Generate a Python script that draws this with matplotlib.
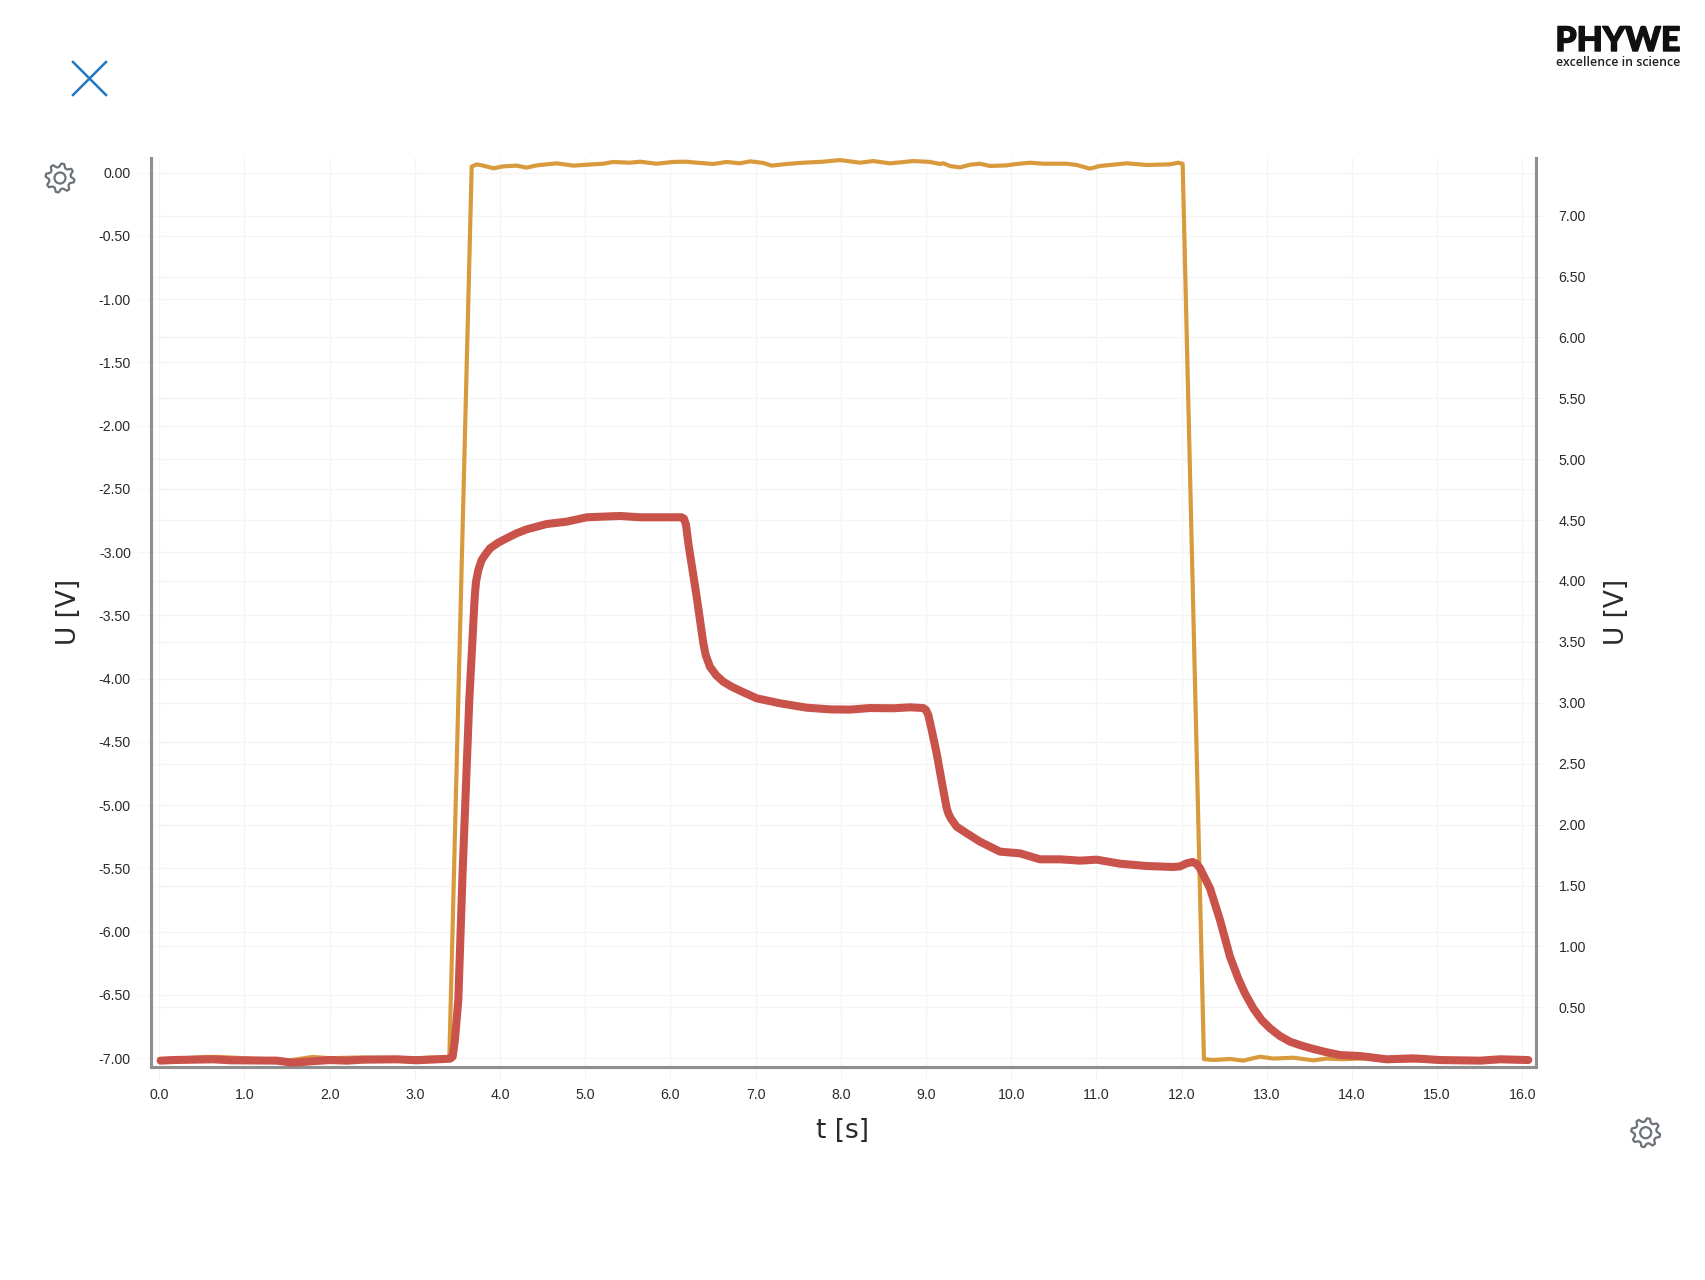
import numpy as np
import matplotlib
matplotlib.use("Agg")
import matplotlib.pyplot as plt
import matplotlib.patheffects as pe
from matplotlib.path import Path
from matplotlib.patches import PathPatch, Circle
from matplotlib.lines import Line2D

W, H = 1706, 1280

# Orange series, left axis [V]
orange_t = [0.0, 0.3, 0.55, 0.7, 1.0, 1.5, 1.8, 2.0, 2.3, 3.0, 3.405, 3.667, 3.726, 3.803, 3.921, 4.038, 4.195, 4.313,
            4.430, 4.665, 4.860, 5.017, 5.212, 5.329, 5.525, 5.643, 5.838, 6.034, 6.191, 6.308, 6.504, 6.660,
            6.817, 6.934, 7.090, 7.189, 7.365, 7.560, 7.794, 7.990, 8.225, 8.381, 8.577, 8.851, 9.047, 9.164,
            9.203, 9.282, 9.399, 9.516, 9.634, 9.751, 9.947, 10.064, 10.221, 10.377, 10.651, 10.769, 10.925,
            11.042, 11.356, 11.591, 11.864, 11.962, 12.013, 12.263, 12.373, 12.569, 12.725, 12.921, 13.077,
            13.312, 13.547, 13.703, 13.899, 14.2, 14.6, 15.0, 15.5, 16.07]
orange_u = [-7.01, -7.0, -6.99, -6.99, -7.0, -7.02, -6.99, -7.0, -6.995, -7.0, -6.99, 0.048, 0.066, 0.056, 0.035, 0.050, 0.056, 0.040,
            0.058, 0.074, 0.056, 0.063, 0.071, 0.085, 0.079, 0.087, 0.071, 0.085, 0.087, 0.079, 0.069, 0.085,
            0.074, 0.090, 0.077, 0.056, 0.069, 0.079, 0.087, 0.100, 0.079, 0.092, 0.074, 0.092, 0.085, 0.069,
            0.074, 0.053, 0.042, 0.063, 0.071, 0.053, 0.058, 0.069, 0.079, 0.071, 0.071, 0.061, 0.032,
            0.053, 0.074, 0.061, 0.066, 0.079, 0.069, -7.008, -7.014, -7.006, -7.019, -6.988, -7.003,
            -6.996, -7.017, -7.003, -7.008, -7.0, -7.02, -7.015, -7.02, -7.01]

# Red series, right axis [V]
red_t = [0.016, 0.164, 0.634, 0.830, 1.378, 1.573, 1.769, 2.004, 2.199, 2.395, 2.786, 3.021, 3.412, 3.444, 3.47, 3.51, 3.56,
         3.639, 3.674, 3.697, 3.706, 3.718, 3.745, 3.784, 3.823, 3.882, 3.979, 4.078, 4.195, 4.313, 4.548, 4.782, 5.017,
         5.408, 5.643, 6.132, 6.159, 6.183,
         6.210, 6.308, 6.347, 6.386, 6.414, 6.464, 6.535, 6.621, 6.719, 6.817, 7.012, 7.286, 7.599, 7.873, 8.108, 8.342,
         8.616, 8.812, 8.968, 9.0, 9.027, 9.067, 9.125, 9.203, 9.243, 9.262, 9.290, 9.360, 9.477, 9.634, 9.869, 10.103,
         10.338, 10.573, 10.808, 11.004,
         11.277, 11.591, 11.904, 11.982, 12.060, 12.131, 12.177, 12.217, 12.236, 12.295, 12.334, 12.451, 12.569, 12.666,
         12.744, 12.842, 12.940, 13.038, 13.155,
         13.273, 13.410, 13.547, 13.703, 13.86, 14.095, 14.408, 14.721, 15.034, 15.504, 15.739, 16.07]
red_u = [0.062, 0.067, 0.073, 0.065, 0.062, 0.045, 0.056, 0.067, 0.062, 0.070, 0.073, 0.065, 0.078, 0.095, 0.23, 0.56, 1.6,
         3.023, 3.488, 3.800, 3.899, 3.994, 4.090, 4.172, 4.213, 4.268, 4.315, 4.351, 4.392, 4.424, 4.468, 4.487, 4.523,
         4.534, 4.523, 4.523, 4.512, 4.460,
         4.310, 3.871, 3.680, 3.490, 3.392, 3.296, 3.228, 3.173, 3.132, 3.099, 3.037, 2.996, 2.960, 2.946, 2.944, 2.957,
         2.955, 2.963, 2.957, 2.941, 2.900, 2.777, 2.585, 2.284, 2.134, 2.093, 2.052, 1.983, 1.929, 1.860, 1.778, 1.764,
         1.715, 1.715, 1.704, 1.712,
         1.679, 1.660, 1.652, 1.657, 1.682, 1.693, 1.677, 1.641, 1.613, 1.531, 1.477, 1.217, 0.915, 0.735,
         0.615, 0.492, 0.396, 0.328, 0.264,
         0.218, 0.185, 0.158, 0.131, 0.108, 0.100, 0.073, 0.081, 0.067, 0.062, 0.073, 0.067]

x_ticks = list(range(0, 17))
x_tick_labels = [f"{v:.1f}" for v in x_ticks]
left_ticks = [-7.0, -6.5, -6.0, -5.5, -5.0, -4.5, -4.0, -3.5, -3.0, -2.5, -2.0, -1.5, -1.0, -0.5, 0.0]
right_ticks = [0.5, 1.0, 1.5, 2.0, 2.5, 3.0, 3.5, 4.0, 4.5, 5.0, 5.5, 6.0, 6.5, 7.0]

ORANGE = "#d99a3e"
RED = "#c9524a"
GRID = "#f4f4f4"
SPINE = "#8f8f8f"
TEXT = "#2a2a2a"
plt.rcParams["font.family"] = ["Liberation Sans", "DejaVu Sans"]

fig = plt.figure(figsize=(W / 100, H / 100), dpi=100, facecolor="white")
L, R, T, B = 151.0, 1535.7, 158.0, 1066.7
ax = fig.add_axes([L / W, 1 - B / H, (R - L) / W, (B - T) / H])
ax2 = ax.twinx()
ax.set_zorder(ax2.get_zorder() + 1)
ax.patch.set_visible(False)
ax2.patch.set_facecolor("white")

X_PER = (1522.3 - 159.3) / 16
ax.set_xlim((L - 159.3) / X_PER, (R - 159.3) / X_PER)
ax.set_ylim((172.7 - B) / 126.5, (172.7 - T) / 126.5)
ax2.set_ylim((1068.2 - B) / 121.8, (1068.2 - T) / 121.8)

ax.set_xticks(x_ticks, x_tick_labels)
ax.set_yticks(left_ticks, [f"{v:.2f}" for v in left_ticks])
ax2.set_yticks(right_ticks, [f"{v:.2f}" for v in right_ticks])

ax.grid(True, color=GRID, lw=0.9)
ax2.grid(True, axis="y", color=GRID, lw=0.9)
ax.set_axisbelow(True)
ax2.set_axisbelow(True)

ax.tick_params(axis="x", length=9, width=0.7, color=GRID, labelsize=10.2, labelcolor=TEXT, pad=6)
ax.tick_params(axis="y", length=9.5, width=0.7, color=GRID, labelsize=10.2, labelcolor=TEXT, pad=5)
ax2.tick_params(axis="y", length=6, width=0.7, color=GRID, labelsize=10.2, labelcolor=TEXT, pad=10.5)

for a in (ax, ax2):
    a.spines["top"].set_visible(False)
    for s in ("left", "right", "bottom"):
        a.spines[s].set_color(SPINE)
        a.spines[s].set_linewidth(2.2)

ax.plot(orange_t, orange_u, color=ORANGE, lw=3.0, solid_joinstyle="round", zorder=3)
ax.plot(red_t, red_u, color=RED, lw=5.8, solid_capstyle="round", solid_joinstyle="round",
        transform=ax2.transData, zorder=4)


def px(x, y):
    return x / W, 1 - y / H


LABEL = dict(family="DejaVu Sans", fontsize=19, color=TEXT, ha="center", va="center")
ax.set_xlabel("t [s]", **LABEL)
ax.xaxis.set_label_coords(*px(843, 1131), transform=fig.transFigure)
ax.set_ylabel("U [V]", rotation=90, **LABEL)
ax.yaxis.set_label_coords(*px(68.5, 611.7), transform=fig.transFigure)
ax2.set_ylabel("U [V]", rotation=90, **LABEL)
ax2.yaxis.set_label_coords(*px(1617, 611.7), transform=fig.transFigure)


# Close icon
for (x0, y0, x1, y1) in [(73, 62, 106, 95), (73, 95, 106, 62)]:
    fig.add_artist(Line2D([x0 / W, x1 / W], [1 - y0 / H, 1 - y1 / H], color="#1f78c1", lw=1.8,
                          transform=fig.transFigure))


# Settings icons
def gear(cx, cy, r=14.5, teeth=8):
    pts = []
    n = teeth * 4
    for i in range(n):
        a = 2 * np.pi * (i - 0.5) / n + np.pi / 2 - np.pi / teeth / 2
        rr = r if i % 4 in (0, 1) else r * 0.76
        pts.append((cx + rr * np.cos(a), H - cy + rr * np.sin(a)))
    pts.append(pts[0])
    codes = [Path.MOVETO] + [Path.LINETO] * (len(pts) - 2) + [Path.CLOSEPOLY]
    fig.add_artist(PathPatch(Path(pts, codes), fc="none", ec="#6c7278", lw=1.6, joinstyle="round",
                             transform=None))
    fig.add_artist(Circle((cx, H - cy), r * 0.38, fc="none", ec="#6c7278", lw=1.6, transform=None))


gear(60, 178)
gear(1645.7, 1132.7)

# Logo
fig.text(*px(1618, 41), "PHYWE", family="Lato", weight="black", fontsize=24.4, color="#101010",
         ha="center", va="center",
         path_effects=[pe.withStroke(linewidth=1.0, foreground="#101010")])
fig.text(*px(1618, 62), "excellence in science", family="Open Sans", weight="semibold", fontsize=8.9,
         color="#222222", ha="center", va="center")

fig.savefig("out.png", dpi=100, facecolor="white")
